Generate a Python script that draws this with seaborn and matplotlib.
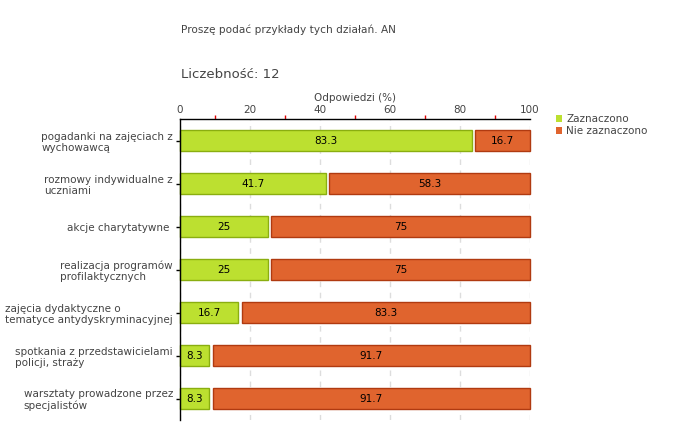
"""Stacked horizontal bar chart: survey answers (selected / not selected)."""

import numpy as np
import pandas as pd
import matplotlib
matplotlib.use("Agg")
import matplotlib.pyplot as plt
from matplotlib.patches import Patch
from matplotlib.ticker import MultipleLocator
import seaborn as sns

# Data
categories = [
    "pogadanki na zajęciach z\nwychowawcą",
    "rozmowy indywidualne z\nuczniami",
    "akcje charytatywne ",
    "realizacja programów\nprofilaktycznych",
    "zajęcia dydaktyczne o\ntematyce antydyskryminacyjnej",
    "spotkania z przedstawicielami\npolicji, straży",
    "warsztaty prowadzone przez\nspecjalistów",
]
selected = [83.3, 41.7, 25, 25, 16.7, 8.3, 8.3]
not_selected = [16.7, 58.3, 75, 75, 83.3, 91.7, 91.7]
series_names = ["Zaznaczono", "Nie zaznaczono"]
title_text = "Proszę podać przykłady tych działań. AN"
count_text = "Liczebność: 12"
axis_label = "Odpowiedzi (%)"

GREEN, GREEN_EDGE = "#bce030", "#8aae10"
ORANGE, ORANGE_EDGE = "#e0642e", "#b03a10"
TEXT = "#444444"

sns.set_theme(style="white")
plt.rcParams["font.family"] = ["DejaVu Sans"]

df = pd.DataFrame({"category": categories, "selected": selected,
                   "not_selected": not_selected})

fig = plt.figure(figsize=(6.8, 4.4), dpi=100)
ax = fig.add_axes([180 / 680, 1 - 420 / 440, 350 / 680, 301 / 440])

bar_h = 0.47
pos = np.arange(len(df))

# green part via seaborn
sns.barplot(data=df, x="selected", y="category", orient="h", ax=ax,
            color=GREEN, edgecolor=GREEN_EDGE, linewidth=1, width=bar_h,
            saturation=1, zorder=3)
# orange part, small white gap after the green segment
gap = 1.0
ax.barh(pos, df["not_selected"] - gap, left=df["selected"] + gap,
        height=bar_h, color=ORANGE, edgecolor=ORANGE_EDGE, linewidth=1,
        zorder=3)
for p in ax.patches:
    p.set_clip_on(False)

for i, (a, b) in enumerate(zip(df["selected"], df["not_selected"])):
    ax.text(a / 2, i, f"{a:g}", ha="center", va="center", fontsize=7.5,
            color="black", zorder=4)
    ax.text(a + gap + (b - gap) / 2, i, f"{b:g}", ha="center", va="center",
            fontsize=7.5, color="black", zorder=4)

ax.set_xlim(0, 100)
ax.set_ylim(len(df) - 0.5, -0.5)

# axis on top
ax.xaxis.set_ticks_position("top")
ax.xaxis.set_label_position("top")
ax.xaxis.set_major_locator(MultipleLocator(20))
ax.xaxis.set_minor_locator(MultipleLocator(10))
ax.tick_params(axis="x", which="major", length=0, pad=3, labelsize=7.5,
               labelcolor=TEXT)
ax.tick_params(axis="x", which="minor", length=3, color="#e00000",
               width=1, direction="out")
ax.set_xlabel(axis_label, fontsize=7.5, color=TEXT, labelpad=3)
ax.grid(axis="x", which="major", linestyle=(0, (4, 4)), color="#dddddd",
        linewidth=1, zorder=0)

ax.set_ylabel("")
ax.tick_params(axis="y", length=3, width=1, color="black", direction="out",
               left=True, pad=2, labelsize=7.5, labelcolor=TEXT)
for lbl in ax.get_yticklabels():
    lbl.set_multialignment("left")

for side in ["right", "bottom"]:
    ax.spines[side].set_visible(False)
for side in ["top", "left"]:
    ax.spines[side].set_color("black")
    ax.spines[side].set_linewidth(1)
    ax.spines[side].set_zorder(5)

fig.text(181 / 680, 1 - 30 / 440, title_text, fontsize=7.6, color=TEXT,
         va="center", ha="left")
fig.text(181 / 680, 1 - 75 / 440, count_text, fontsize=9.5, color=TEXT,
         va="center", ha="left")

handles = [Patch(facecolor=GREEN, edgecolor="none"),
           Patch(facecolor=ORANGE, edgecolor="none")]
fig.legend(handles, series_names, loc="upper left",
           bbox_to_anchor=(556 / 680, 1 - 114 / 440), frameon=False,
           fontsize=7.5, labelcolor=TEXT, handlelength=0.6, handleheight=0.6,
           handletextpad=0.4, labelspacing=0.2, borderaxespad=0,
           borderpad=0)

fig.savefig("out.png", dpi=100)
